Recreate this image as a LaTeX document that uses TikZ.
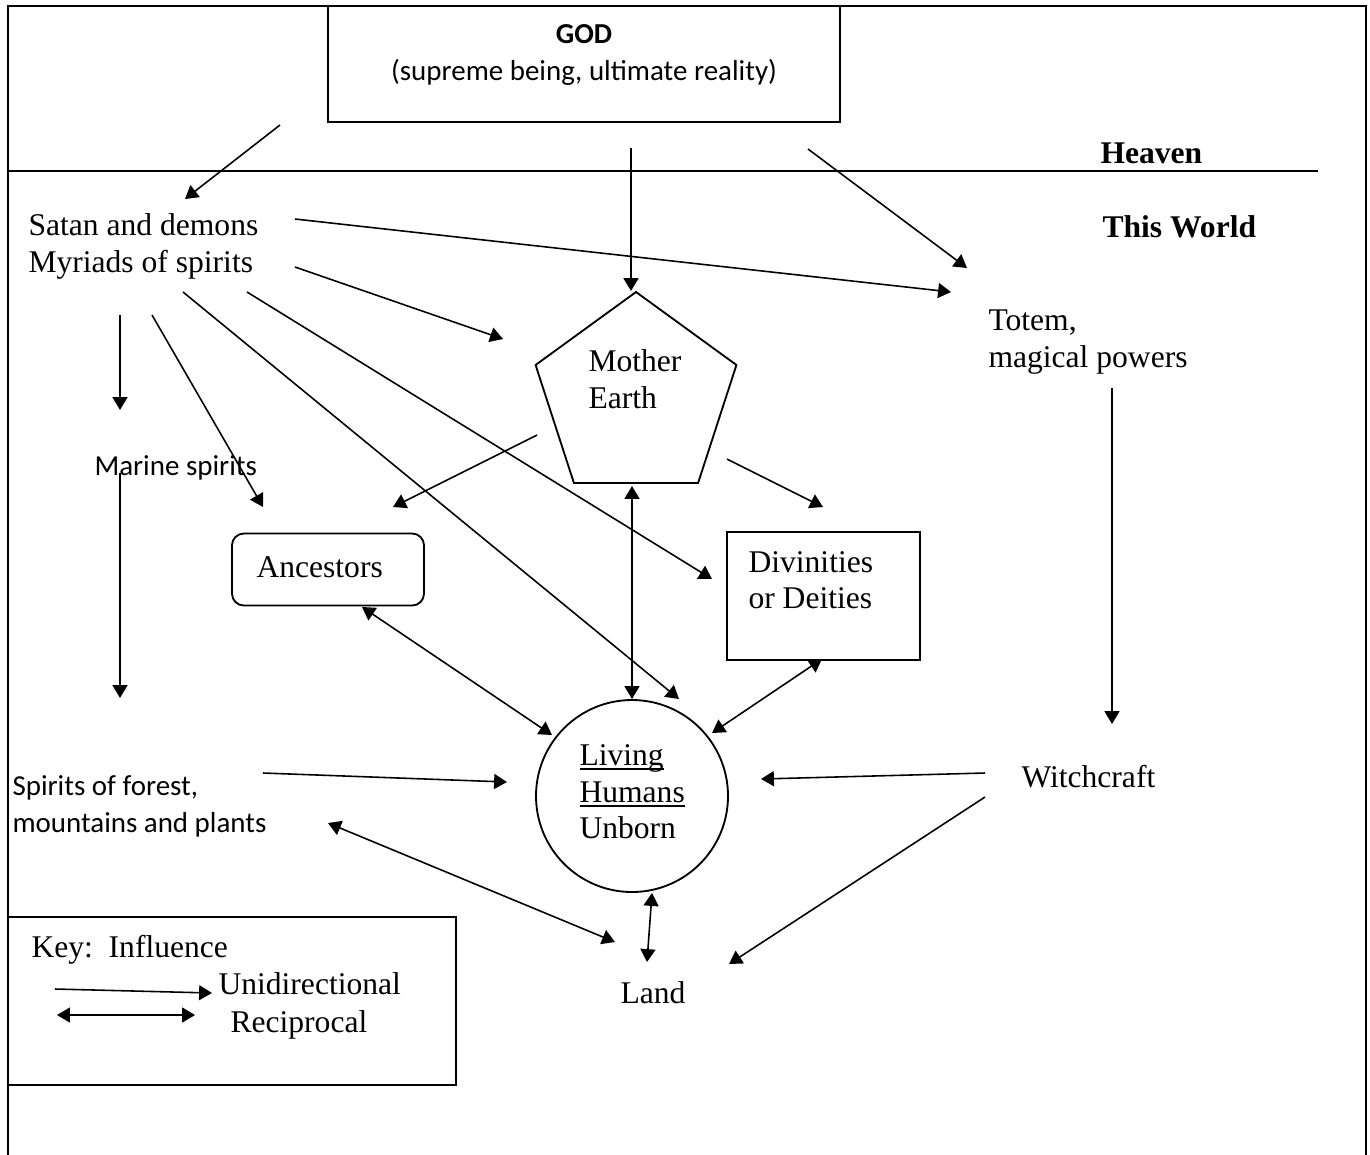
\documentclass[tikz,border=0pt]{standalone}
\usepackage{fontspec}
\setmainfont{Liberation Serif}
\newfontfamily\calibri{Carlito}
\usetikzlibrary{arrows.meta,shapes.geometric}
\newcommand\ulin[1]{\sbox0{#1}\rlap{\rule[-1.8pt]{\wd0}{0.5pt}}\usebox0}
\tikzset{
  txt/.style={inner sep=0pt, anchor=base west, font=\fontsize{12}{14}\selectfont},
  ctxt/.style={inner sep=0pt, anchor=base west, font=\calibri\fontsize{11}{13}\selectfont},
  frameline/.style={line width=0.9pt},
  shapebox/.style={draw, line width=0.7pt, inner sep=0pt},
  uni/.style={line width=0.6pt, -{Triangle[length=4.9pt,width=5.7pt]}},
  bi/.style={line width=0.6pt, {Triangle[length=4.9pt,width=5.7pt]}-{Triangle[length=4.9pt,width=5.7pt]}}
}
\begin{document}
\begin{tikzpicture}[x=0.38pt,y=-0.38pt]
\useasboundingbox (0,0) rectangle (1370,1154);
% frame and heaven line
\coordinate (fbl) at (8,1160);
\coordinate (ftl) at (8,6);
\coordinate (ftr) at (1366,6);
\coordinate (fbr) at (1366,1160);
\draw[frameline] (fbl) -- (ftl) -- (ftr) -- (fbr);
\coordinate (hl) at (8,171);
\coordinate (hr) at (1318,171);
\draw[line width=0.65pt] (hl) -- (hr);

% shapes
\node[shapebox, rectangle, minimum width=512*0.38pt, minimum height=116*0.38pt] (godbox) at (584,64) {};
\node[shapebox, regular polygon, regular polygon sides=5, minimum size=211.2*0.38pt] (me) at (636,397.6) {};
\node[shapebox, circle, minimum size=192*0.38pt] (hum) at (632,796) {};
\node[shapebox, rectangle, rounded corners=4.5pt, minimum width=192*0.38pt, minimum height=72*0.38pt] (anc) at (328,569.5) {};
\node[shapebox, rectangle, minimum width=193*0.38pt, minimum height=128*0.38pt] (div) at (823.5,596) {};
\node[shapebox, rectangle, minimum width=448*0.38pt, minimum height=168*0.38pt] (key) at (232,1001) {};

% texts
\node[ctxt, anchor=base, font=\calibri\bfseries\fontsize{11}{13}\selectfont] (god1) at (584,43) {GOD};
\node[ctxt, anchor=base] (god2) at (584,80) {(supreme being, ultimate reality)};
\node[txt, font=\bfseries\fontsize{12}{14}\selectfont] (heaven) at (1100,163) {Heaven};
\node[txt, font=\bfseries\fontsize{12}{14}\selectfont] (world) at (1102,237) {This World};
\node[txt] (satan1) at (28,235) {Satan and demons};
\node[txt] (satan2) at (28,272) {Myriads of spirits};
\node[txt] (totem1) at (988,330) {Totem,};
\node[txt] (totem2) at (988,367) {magical powers};
\node[txt] (me1) at (588,371) {Mother};
\node[txt] (me2) at (588,408) {Earth};
\node[ctxt] (marine) at (94,475) {Marine spirits};
\node[txt] (anctext) at (256,577) {Ancestors};
\node[txt] (div1) at (748,572) {Divinities};
\node[txt] (div2) at (748,608) {or Deities};
\node[txt] (liv1) at (579,765) {\ulin{Living}};
\node[txt] (liv2) at (579,802) {\ulin{Humans}};
\node[txt] (liv3) at (579,838) {Unborn};
\node[ctxt] (forest1) at (12,795) {Spirits of forest,};
\node[ctxt] (forest2) at (12,832) {mountains and plants};
\node[txt] (witch) at (1021,787) {Witchcraft};
\node[txt] (land) at (620,1003) {Land};
\node[txt] (key1) at (31,957) {Key:\ \ Influence};
\node[txt] (key2) at (218,994) {Unidirectional};
\node[txt] (key3) at (230,1032) {Reciprocal};

% connector end points
\coordinate (a1s) at (280,125);  \coordinate (a1e) at (185,199);
\coordinate (a2s) at (631,148);  \coordinate (a2e) at (631,291);
\coordinate (a3s) at (808,149);  \coordinate (a3e) at (967,268);
\coordinate (a4s) at (295,219);  \coordinate (a4e) at (951,292);
\coordinate (a5s) at (295,267);  \coordinate (a5e) at (503,339);
\coordinate (a6s) at (120,315);  \coordinate (a6e) at (120,410);
\coordinate (a7s) at (152,315);  \coordinate (a7e) at (263,507);
\coordinate (a8s) at (183,292);  \coordinate (a8e) at (679,699);
\coordinate (a9s) at (247,292);  \coordinate (a9e) at (712,579);
\coordinate (a10s) at (120,473); \coordinate (a10e) at (120,698);
\coordinate (a11s) at (537,435); \coordinate (a11e) at (393,507);
\coordinate (a12s) at (727,459); \coordinate (a12e) at (823,507);
\coordinate (a13s) at (632,486); \coordinate (a13e) at (632,699);
\coordinate (a14s) at (362,607); \coordinate (a14e) at (552,735);
\coordinate (a15s) at (822,659); \coordinate (a15e) at (712,733);
\coordinate (a16s) at (263,773); \coordinate (a16e) at (507,782);
\coordinate (a17s) at (985,773); \coordinate (a17e) at (761,779);
\coordinate (a18s) at (985,797); \coordinate (a18e) at (729,964);
\coordinate (a19s) at (328,823); \coordinate (a19e) at (615,942);
\coordinate (a20s) at (652,893); \coordinate (a20e) at (647,962);
\coordinate (a21s) at (1112,388); \coordinate (a21e) at (1112,724);
\coordinate (k1s) at (55,989);   \coordinate (k1e) at (212,993);
\coordinate (k2s) at (57,1015);  \coordinate (k2e) at (195,1015);

% connectors
\draw[uni] (a1s) -- (a1e);
\draw[uni] (a2s) -- (a2e);
\draw[uni] (a3s) -- (a3e);
\draw[uni] (a4s) -- (a4e);
\draw[uni] (a5s) -- (a5e);
\draw[uni] (a6s) -- (a6e);
\draw[uni] (a7s) -- (a7e);
\draw[uni] (a8s) -- (a8e);
\draw[uni] (a9s) -- (a9e);
\draw[uni] (a10s) -- (a10e);
\draw[uni] (a11s) -- (a11e);
\draw[uni] (a12s) -- (a12e);
\draw[bi] (a13s) -- (a13e);
\draw[bi] (a14s) -- (a14e);
\draw[bi] (a15s) -- (a15e);
\draw[uni] (a16s) -- (a16e);
\draw[uni] (a17s) -- (a17e);
\draw[uni] (a18s) -- (a18e);
\draw[bi] (a19s) -- (a19e);
\draw[bi] (a20s) -- (a20e);
\draw[uni] (a21s) -- (a21e);
\draw[uni] (k1s) -- (k1e);
\draw[bi] (k2s) -- (k2e);
\end{tikzpicture}
\end{document}
